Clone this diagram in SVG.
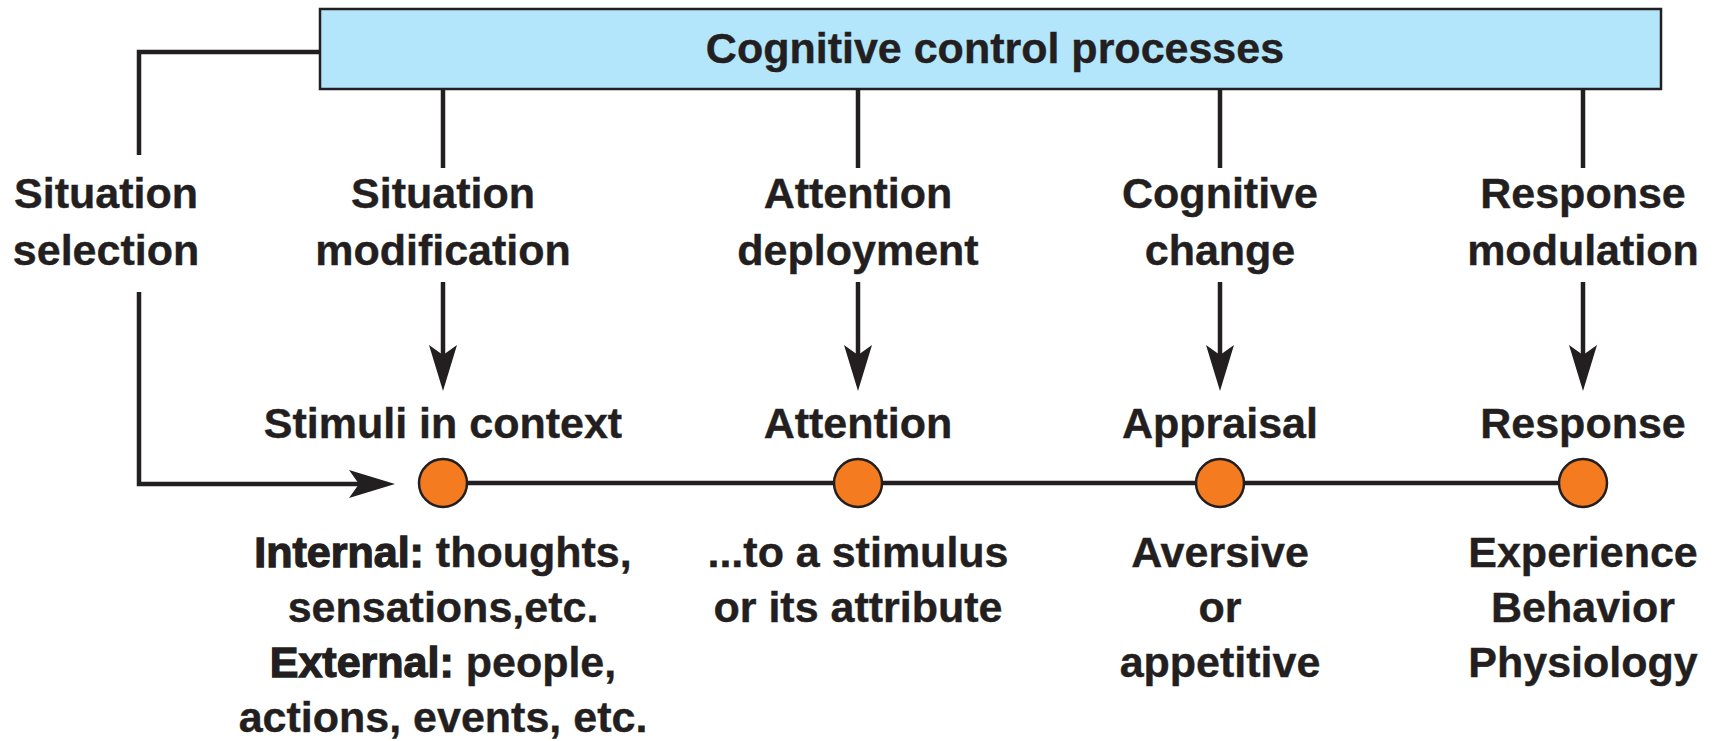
<svg xmlns="http://www.w3.org/2000/svg" width="1721" height="741" viewBox="0 0 1721 741">
<style>
text{font-family:"Liberation Sans",Arial,sans-serif;font-weight:bold;font-size:43px;fill:#231f20;stroke:#231f20;stroke-width:0.4;text-anchor:middle}
.ln{stroke:#231f20;stroke-width:4.5;fill:none}
.dot{fill:#f47b20;stroke:#231f20;stroke-width:2.5}
.hv{stroke:#231f20;stroke-width:1.3}
</style>
<defs>
<marker id="ah" viewBox="0 0 46 28" refX="46" refY="14" markerWidth="46" markerHeight="28" markerUnits="userSpaceOnUse" orient="auto">
<path d="M0,0 L46,14 L0,28 L10,14 Z" fill="#231f20"/>
</marker>
</defs>
<rect width="1721" height="741" fill="#ffffff"/>
<g id="connectors">
<path class="ln" d="M320,52 H139 V155"/>
<path class="ln" d="M139,292 V484 H366"/>
<path d="M351,484 H395" stroke="none" fill="none" marker-end="url(#ah)"/>
<line class="ln" x1="443" y1="89" x2="443" y2="168"/>
<line class="ln" x1="858" y1="89" x2="858" y2="168"/>
<line class="ln" x1="1220" y1="89" x2="1220" y2="168"/>
<line class="ln" x1="1583" y1="89" x2="1583" y2="168"/>
<line class="ln" x1="443" y1="282" x2="443" y2="362"/>
<path d="M443,345 V391" fill="none" marker-end="url(#ah)"/>
<line class="ln" x1="858" y1="282" x2="858" y2="362"/>
<path d="M858,345 V391" fill="none" marker-end="url(#ah)"/>
<line class="ln" x1="1220" y1="282" x2="1220" y2="362"/>
<path d="M1220,345 V391" fill="none" marker-end="url(#ah)"/>
<line class="ln" x1="1583" y1="282" x2="1583" y2="362"/>
<path d="M1583,345 V391" fill="none" marker-end="url(#ah)"/>
<line class="ln" x1="443" y1="483" x2="1583" y2="483"/>
</g>
<g id="control-box">
<rect x="320" y="9" width="1341" height="80" fill="#b4e6fb" stroke="#231f20" stroke-width="2.5"/>
<text x="995" y="63">Cognitive control processes</text>
</g>
<g id="situation-selection">
<text x="106" y="208">Situation</text>
<text x="106" y="265">selection</text>
</g>
<g id="situation-modification">
<text x="443" y="208">Situation</text>
<text x="443" y="265">modification</text>
</g>
<g id="attention-deployment">
<text x="858" y="208">Attention</text>
<text x="858" y="265">deployment</text>
</g>
<g id="cognitive-change">
<text x="1220" y="208">Cognitive</text>
<text x="1220" y="265">change</text>
</g>
<g id="response-modulation">
<text x="1583" y="208">Response</text>
<text x="1583" y="265">modulation</text>
</g>
<g id="stimuli">
<text x="443" y="438">Stimuli in context</text>
<circle class="dot" cx="443" cy="483" r="24"/>
<text x="443" y="567"><tspan class="hv">Internal:</tspan> thoughts,</text>
<text x="443" y="622">sensations,etc.</text>
<text x="443" y="677"><tspan class="hv">External:</tspan> people,</text>
<text x="443" y="732">actions, events, etc.</text>
</g>
<g id="attention">
<text x="858" y="438">Attention</text>
<circle class="dot" cx="858" cy="483" r="24"/>
<text x="858" y="567">...to a stimulus</text>
<text x="858" y="622">or its attribute</text>
</g>
<g id="appraisal">
<text x="1220" y="438">Appraisal</text>
<circle class="dot" cx="1220" cy="483" r="24"/>
<text x="1220" y="567">Aversive</text>
<text x="1220" y="622">or</text>
<text x="1220" y="677">appetitive</text>
</g>
<g id="response">
<text x="1583" y="438">Response</text>
<circle class="dot" cx="1583" cy="483" r="24"/>
<text x="1583" y="567">Experience</text>
<text x="1583" y="622">Behavior</text>
<text x="1583" y="677">Physiology</text>
</g>
</svg>
